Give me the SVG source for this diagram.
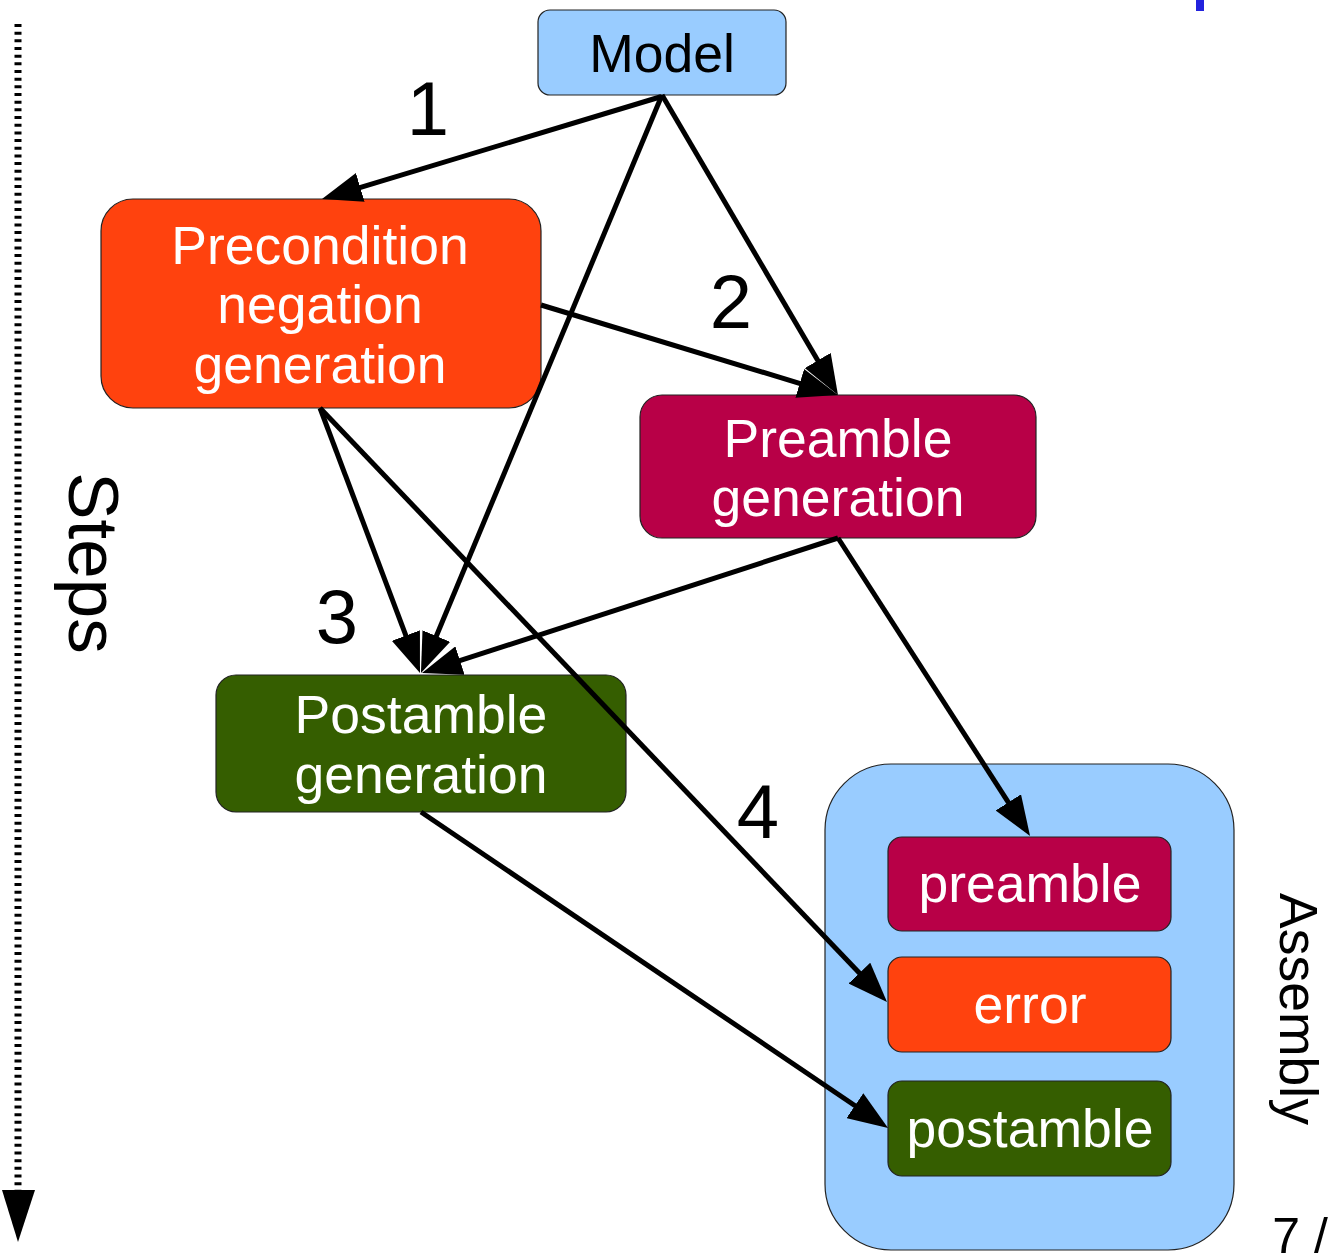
<svg xmlns="http://www.w3.org/2000/svg" width="1335" height="1255" viewBox="0 0 1335 1255">
<style>
.box{stroke:#222;stroke-width:1.2}
.t{font-family:"Liberation Sans",Arial,sans-serif;font-size:53.5px;text-anchor:middle;fill:#fff}
.num{font-family:"Liberation Sans",Arial,sans-serif;font-size:76px;text-anchor:middle;fill:#000}
.c{stroke:#000;stroke-width:5;fill:none}
</style>
<defs>
<marker id="ah" markerUnits="userSpaceOnUse" viewBox="0 0 40 30" markerWidth="40" markerHeight="30" refX="10" refY="15" orient="auto">
<path d="M0,0 L40,15 L0,30 z" fill="#000"/>
</marker>
</defs>
<rect width="1335" height="1255" fill="#fff"/>
<rect x="1196" y="0" width="8" height="11" fill="#2222dd"/>
<g id="steps">
<line x1="18" y1="24" x2="18" y2="1190" stroke="#000" stroke-width="7" stroke-dasharray="3 4.67"/>
<polygon points="2,1190 35,1190 18,1242" fill="#000"/>
<text x="0" y="0" transform="translate(69,563) rotate(90)" style="font-family:'Liberation Sans',Arial,sans-serif;font-size:71px;text-anchor:middle;fill:#000">Steps</text>
</g>
<g id="assembly">
<rect class="box" x="825" y="764" width="409" height="486" rx="66" fill="#99ccff"/>
<text x="0" y="0" transform="translate(1280,1009) rotate(90)" style="font-family:'Liberation Sans',Arial,sans-serif;font-size:53.5px;text-anchor:middle;fill:#000">Assembly</text>
</g>
<g id="model">
<rect class="box" x="538" y="10" width="248" height="85" rx="12" fill="#99ccff"/>
<text class="t" x="662" y="72" style="fill:#000">Model</text>
</g>
<g id="precondition">
<rect class="box" x="101" y="199" width="440" height="209" rx="32" fill="#ff420e"/>
<text class="t" x="320" y="264">Precondition</text>
<text class="t" x="320" y="323">negation</text>
<text class="t" x="320" y="383">generation</text>
</g>
<g id="preamblegen">
<rect class="box" x="640" y="395" width="396" height="143" rx="22" fill="#b80047"/>
<text class="t" x="838" y="457">Preamble</text>
<text class="t" x="838" y="516">generation</text>
</g>
<g id="postamblegen">
<rect class="box" x="216" y="675" width="410" height="137" rx="20" fill="#355e00"/>
<text class="t" x="421" y="733">Postamble</text>
<text class="t" x="421" y="793">generation</text>
</g>
<g id="preamble">
<rect class="box" x="888" y="837" width="283" height="94" rx="14" fill="#b80047"/>
<text class="t" x="1030" y="902">preamble</text>
</g>
<g id="error">
<rect class="box" x="888" y="957" width="283" height="95" rx="14" fill="#ff420e"/>
<text class="t" x="1030" y="1023">error</text>
</g>
<g id="postamble">
<rect class="box" x="888" y="1081" width="283" height="95" rx="14" fill="#355e00"/>
<text class="t" x="1030" y="1147">postamble</text>
</g>
<g id="labels">
<text class="num" x="428" y="135">1</text>
<text class="num" x="731" y="328">2</text>
<text class="num" x="337" y="643">3</text>
<text class="num" x="758" y="838">4</text>
<text x="1300" y="1253" style="font-family:'Liberation Sans',Arial,sans-serif;font-size:50px;text-anchor:middle;fill:#000">7 /</text>
</g>
<g id="connectors">
<line class="c" x1="660" y1="97" x2="350.7" y2="190.3" marker-end="url(#ah)"/>
<line class="c" x1="662" y1="95" x2="822.8" y2="369.1" marker-end="url(#ah)"/>
<line class="c" x1="662" y1="95" x2="432.5" y2="645.3" marker-end="url(#ah)"/>
<line class="c" x1="541" y1="305" x2="809.3" y2="386.3" marker-end="url(#ah)"/>
<line class="c" x1="320" y1="408" x2="409.4" y2="644.9" marker-end="url(#ah)"/>
<line class="c" x1="320" y1="408" x2="866.3" y2="980.3" marker-end="url(#ah)"/>
<line class="c" x1="838" y1="538" x2="450.5" y2="663.7" marker-end="url(#ah)"/>
<line class="c" x1="838" y1="538" x2="1013.8" y2="810.8" marker-end="url(#ah)"/>
<line class="c" x1="421" y1="812" x2="863.2" y2="1111.2" marker-end="url(#ah)"/>
</g>
</svg>
